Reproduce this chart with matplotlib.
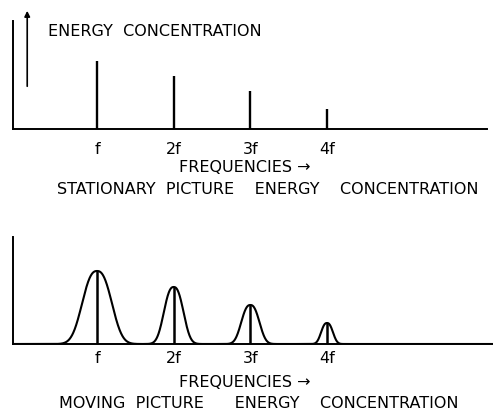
import numpy as np
import matplotlib
matplotlib.use("Agg")
import matplotlib.pyplot as plt

# harmonic number of each line (f, 2f, 3f, 4f)
harmonics = [1, 2, 3, 4]
tick_labels = ["f", "2f", "3f", "4f"]
# energy of each harmonic (arbitrary units)
stationary_energy = [68, 53, 38, 20]
moving_energy = [73, 57, 39, 21]
# spread of energy around each harmonic for a moving picture
moving_spread = [0.183, 0.121, 0.112, 0.073]

W, H = 493, 414
fig = plt.figure(figsize=(W / 100, H / 100), dpi=100)
plt.rcParams["font.family"] = ["DejaVu Sans"]


def box(left, top, right, bottom):
    return [left / W, 1 - bottom / H, (right - left) / W, (bottom - top) / H]


def ftext(x, y, s, **kw):
    fig.text(x / W, 1 - y / H, s, fontsize=11.5, va="center", **kw)


def style(ax, xmax, ymax, pad):
    ax.set_xlim(-0.096, xmax)
    ax.set_ylim(0, ymax)
    for side in ("top", "right"):
        ax.spines[side].set_visible(False)
    for side in ("left", "bottom"):
        ax.spines[side].set_linewidth(1.4)
    ax.set_yticks([])
    ax.set_xticks(harmonics)
    ax.set_xticklabels(tick_labels, fontsize=11.5)
    ax.tick_params(axis="x", length=0, pad=pad)
    ax.patch.set_alpha(0)


# stationary picture: pure lines at each harmonic
ax1 = fig.add_axes(box(13, 22, 487, 130))
style(ax1, 6.09, 108, 9)
ax1.vlines(harmonics, 0, stationary_energy, color="black", lw=1.7)
ax1.annotate("", xy=(0.03, 1.12), xytext=(0.03, 0.37), xycoords="axes fraction",
             arrowprops=dict(arrowstyle="-|>", color="black", lw=1.2,
                             mutation_scale=8))
ftext(48, 31, "ENERGY  CONCENTRATION", ha="left")
ftext(245, 168, "FREQUENCIES \u2192", ha="center")
ftext(268, 189, "STATIONARY  PICTURE    ENERGY    CONCENTRATION", ha="center")

# moving picture: energy spread around each harmonic
ax2 = fig.add_axes(box(13, 238, 493, 345))
style(ax2, 6.165, 107, 4.5)
xs = np.linspace(-0.096, 6.165, 2000)
curve = np.zeros_like(xs)
for h, e, s in zip(harmonics, moving_energy, moving_spread):
    curve += e * np.exp(-0.5 * np.abs((xs - h) / s) ** 2.5)
ax2.plot(xs, curve, color="black", lw=1.5)
ax2.vlines(harmonics, 0, moving_energy, color="black", lw=1.8)
ftext(245, 383, "FREQUENCIES \u2192", ha="center")
ftext(259, 404, "MOVING  PICTURE      ENERGY    CONCENTRATION", ha="center")

fig.savefig("out.png", dpi=100)
